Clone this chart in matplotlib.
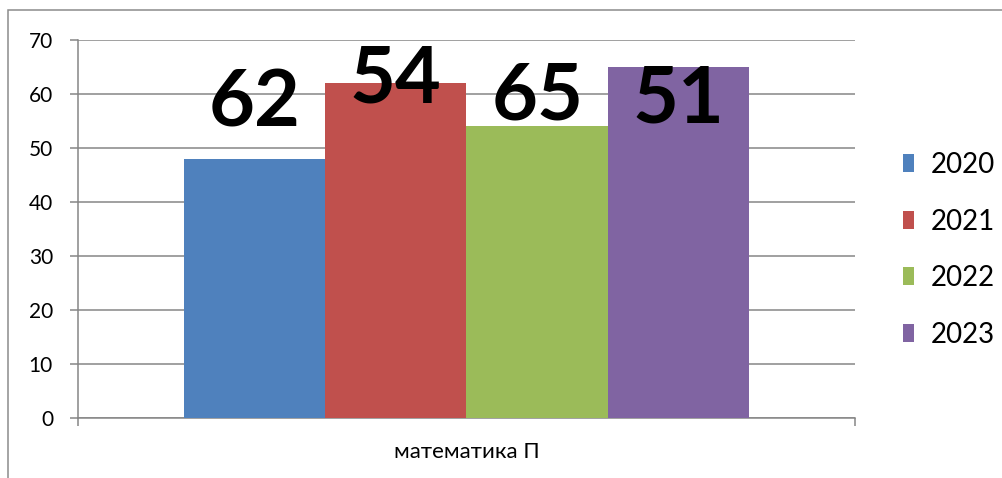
import numpy as np
import matplotlib
matplotlib.use('Agg')
import matplotlib.pyplot as plt
from matplotlib.patches import Rectangle

# データ
category = 'математика П'
years = ['2020', '2021', '2022', '2023']
values = [48, 62, 54, 65]
label_texts = ['62', '54', '65', '51']  # ラベル（原図のまま）
label_base_y = [53.9, 58.5, 55.2, 54.8]  # ラベルのベースライン位置
colors = ['#4F81BD', '#C0504D', '#9BBB59', '#8064A2']

GRID = '#868686'
plt.rcParams['font.family'] = ['Lato', 'DejaVu Sans']

fig = plt.figure(figsize=(10.03, 4.78), dpi=100)
ax = fig.add_axes([78 / 1003, 1 - 418 / 478, (855 - 78) / 1003, (418 - 40) / 478])

# 外枠
fig.patches.append(Rectangle((8 / 1003, -0.1), 1.2, 1 - 10 / 478 + 0.1,
                             transform=fig.transFigure, fill=False,
                             edgecolor='#8c8c8c', linewidth=1.1))

width = 0.182
for i, (v, c) in enumerate(zip(values, colors)):
    x = (i - 1.5) * width
    ax.bar(x, v, width=width, color=c, label=years[i], zorder=3)
    ax.text(x, label_base_y[i], label_texts[i], ha='center', va='baseline',
            fontsize=57, fontweight='bold', color='black', zorder=4)

ax.set_xlim(-0.5, 0.5)
ax.set_ylim(0, 70)
ax.set_yticks(np.arange(0, 71, 10))
ax.yaxis.grid(True, color=GRID, linewidth=1.1, zorder=0)
ax.tick_params(axis='y', labelsize=15, length=6, width=1.1, color=GRID, pad=12)

ax.set_xticks([0])
ax.set_xticklabels([category], fontsize=16)
ax.set_xticks([-0.5, 0.5], minor=True)
ax.tick_params(axis='x', which='major', length=0, pad=17)
ax.tick_params(axis='x', which='minor', length=6, width=1.1, color=GRID)

for side in ['top', 'right']:
    ax.spines[side].set_visible(False)
for side in ['left', 'bottom']:
    ax.spines[side].set_color(GRID)
    ax.spines[side].set_linewidth(1.1)

leg = ax.legend(loc='center left', bbox_to_anchor=(1.029, 0.445), frameon=False,
                fontsize=20, handlelength=0.43, handleheight=0.62,
                labelspacing=1.1, handletextpad=0.6)

fig.savefig('out.png', dpi=100)
